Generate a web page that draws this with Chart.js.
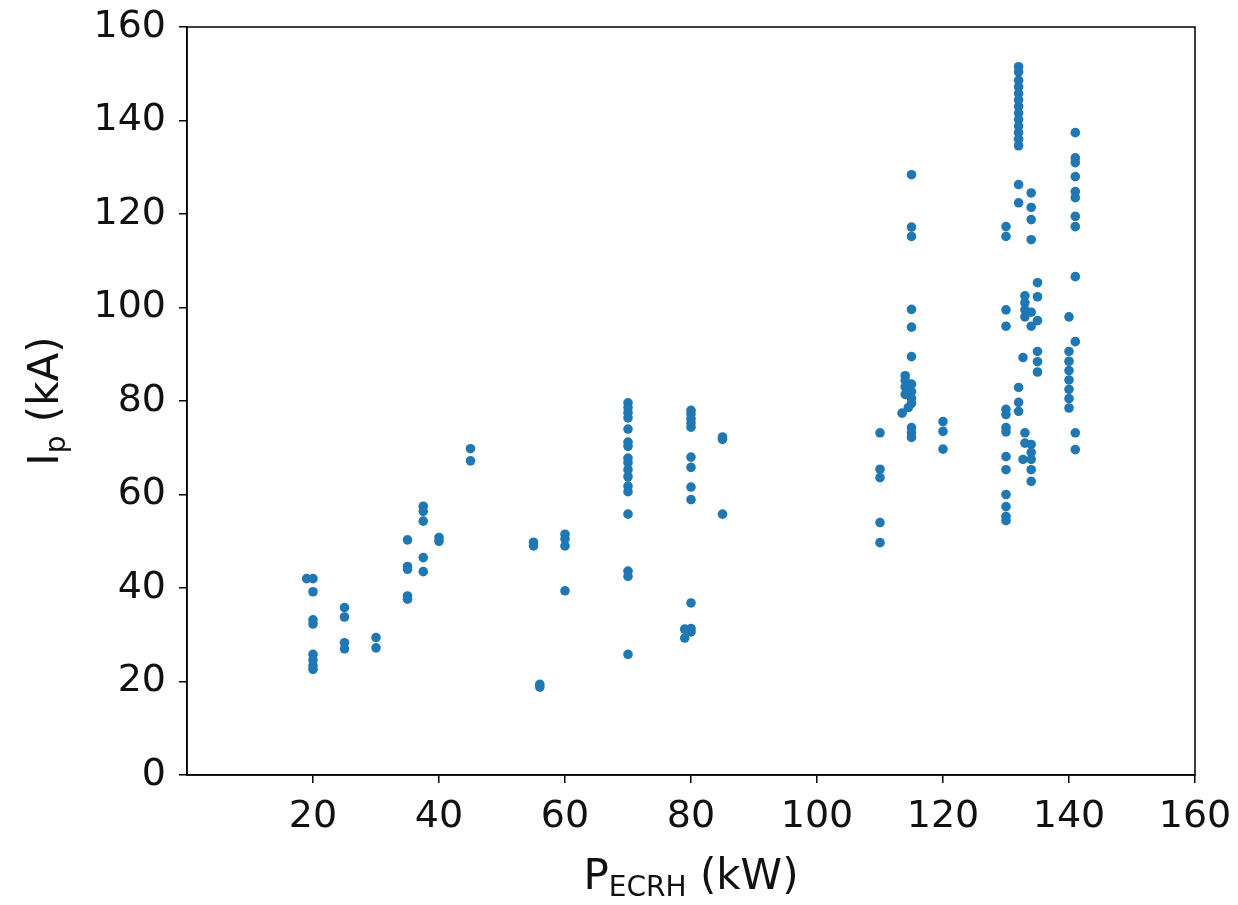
<!DOCTYPE html>
<html>
<head>
<meta charset="UTF-8">
<title>Ip vs PECRH</title>
<script src="https://cdn.jsdelivr.net/npm/chart.js"></script>
<style>
  html, body { margin: 0; padding: 0; background: #fff; }
  #wrap { width: 1238px; height: 905px; }
</style>
</head>
<body>
<div id="wrap"><canvas id="myChart" width="1238" height="905"></canvas></div>
<script>
// heating power (kW) and plasma current (kA), one entry per shot
const pEcrh = [
  19, 20, 20, 20, 20, 20, 20, 20, 20,
  25, 25, 25, 25,
  30, 30,
  35, 35, 35, 35, 35,
  37.5, 37.5, 37.5, 37.5, 37.5,
  40, 40,
  45, 45,
  55, 55, 56, 56,
  60, 60, 60, 60,
  70, 70, 70, 70, 70, 70, 70, 70, 70, 70, 70, 70, 70, 70, 70, 70, 70,
  80, 80, 80, 80, 80, 80, 80, 80, 80, 80, 80, 80, 79, 79,
  85, 85, 85,
  110, 110, 110, 110, 110,
  115, 115, 115, 115, 115, 115, 115, 115, 115,
  114, 114, 115, 114, 115, 114, 115, 115, 114.5, 113.5,
  120, 120, 120,
  130, 130, 130, 130, 130, 130, 130, 130, 130, 130, 130, 130, 130, 130,
  132, 132, 132, 132, 132, 132, 132, 132, 132, 132, 132, 132, 132,
  132, 132, 132, 132, 132, 132.7, 132.7,
  133, 133, 133, 133, 133, 133,
  134, 134, 134, 134, 134, 134, 134, 134, 134, 134, 134,
  135, 135, 135, 135, 135, 135,
  140, 140, 140, 140, 140, 140, 140, 140,
  141, 141, 141, 141, 141, 141, 141, 141, 141, 141, 141, 141
];
const ipValues = [
  42, 42, 39.2, 33.2, 32.3, 25.8, 24.6, 23.4, 22.6,
  35.8, 33.8, 28.3, 27.0,
  29.4, 27.2,
  50.3, 44.6, 44.0, 38.3, 37.6,
  57.5, 56.4, 54.3, 46.5, 43.5,
  50.8, 50.0,
  69.8, 67.2,
  49.8, 49.0, 19.4, 18.8,
  51.5, 50.5, 49.0, 39.4,
  79.6, 78.6, 77.5, 76.4, 74.0, 71.2, 70.3, 67.8, 66.8, 65.3, 63.8, 61.8, 60.6, 55.8, 43.6, 42.5, 25.8,
  78.0, 77.2, 76.2, 75.3, 74.4, 68.0, 65.8, 61.6, 58.9, 36.8, 31.3, 30.6, 31.2, 29.3,
  72.3, 71.8, 55.8,
  73.2, 65.4, 63.6, 54.0, 49.7,
  128.4, 117.2, 115.2, 99.6, 95.8, 89.5, 74.3, 73.2, 72.2,
  85.4, 84.4, 83.6, 83.0, 82.0, 81.4, 80.6, 79.5, 78.6, 77.4,
  75.6, 73.5, 69.7,
  117.3, 115.2, 99.5, 96.0, 78.2, 77.1, 74.3, 73.4, 68.1, 65.3, 60.0, 57.4, 55.3, 54.4,
  151.5, 150.4, 148.6, 147.2, 145.8, 144.4, 143.0, 141.6, 140.2, 138.8, 137.4, 136.0, 134.6,
  126.3, 122.4, 82.9, 79.7, 77.8, 89.3, 67.5,
  102.5, 101.0, 99.5, 98.0, 73.2, 71.0,
  124.5, 121.4, 118.8, 114.5, 99.0, 96.0, 70.7, 69.0, 67.5, 65.3, 62.8,
  105.3, 102.3, 97.2, 90.6, 88.4, 86.2,
  98.0, 90.6, 88.5, 86.5, 84.5, 82.5, 80.5, 78.5,
  137.4, 132.0, 131.0, 128.0, 124.8, 123.5, 119.5, 117.3, 106.6, 92.7, 73.2, 69.6
];
const xTicks = [20, 40, 60, 80, 100, 120, 140, 160];
const yTicks = [0, 20, 40, 60, 80, 100, 120, 140, 160];

const FONT = 'DejaVu Sans';
const points = pEcrh.map((p, i) => ({ x: p, y: ipValues[i] }));

// frame + axis titles with subscripts
const framePlugin = {
  id: 'framePlugin',
  afterDraw(chart) {
    const { ctx, chartArea: a } = chart;
    ctx.save();
    ctx.strokeStyle = '#000';
    ctx.lineWidth = 1.5;
    ctx.strokeRect(a.left, a.top, a.right - a.left, a.bottom - a.top);

    ctx.fillStyle = '#111';
    ctx.textBaseline = 'alphabetic';

    // x title: P_ECRH (kW)
    const big = '42px ' + FONT, small = '28px ' + FONT;
    ctx.font = big; const wP = ctx.measureText('P').width;
    ctx.font = small; const wS = ctx.measureText('ECRH').width;
    ctx.font = big; const wR = ctx.measureText(' (kW)').width;
    let x = (a.left + a.right) / 2 - (wP + wS + wR) / 2;
    const yb = 889;
    ctx.textAlign = 'left';
    ctx.font = big; ctx.fillText('P', x, yb); x += wP;
    ctx.font = small; ctx.fillText('ECRH', x, yb + 7); x += wS;
    ctx.font = big; ctx.fillText(' (kW)', x, yb);

    // y title: I_p (kA)
    ctx.translate(58, (a.top + a.bottom) / 2);
    ctx.rotate(-Math.PI / 2);
    ctx.font = big; const wI = ctx.measureText('I').width;
    ctx.font = small; const wp = ctx.measureText('p').width;
    ctx.font = big; const wk = ctx.measureText(' (kA)').width;
    x = -(wI + wp + wk) / 2;
    ctx.font = big; ctx.fillText('I', x, 0); x += wI;
    ctx.font = small; ctx.fillText('p', x, 7); x += wp;
    ctx.font = big; ctx.fillText(' (kA)', x, 0);
    ctx.restore();
  }
};

const axisCommon = {
  grid: { drawOnChartArea: false, drawTicks: true, tickLength: 8, color: '#000', lineWidth: 1.5 },
  border: { display: true, color: '#000', width: 1.5 },
  ticks: { color: '#111', font: { family: FONT, size: 38 }, autoSkip: false, maxRotation: 0 }
};

// no label overflow padding, so the plot box sits where the layout padding puts it
function noOverflow(s) {
  s.paddingTop = 0; s.paddingBottom = 0; s.paddingLeft = 0; s.paddingRight = 0;
}

new Chart(document.getElementById('myChart').getContext('2d'), {
  type: 'scatter',
  data: {
    datasets: [{
      data: points,
      backgroundColor: '#1f77b4',
      borderWidth: 0,
      pointRadius: 4.8,
      pointHoverRadius: 4.8
    }]
  },
  options: {
    responsive: false,
    animation: false,
    layout: { padding: { top: 27, right: 43, left: 0, bottom: 0 } },
    plugins: { legend: { display: false }, tooltip: { enabled: false } },
    scales: {
      x: {
        type: 'linear', min: 0, max: 160,
        ...axisCommon,
        ticks: { ...axisCommon.ticks, padding: 11 },
        afterBuildTicks(s) { s.ticks = xTicks.map(v => ({ value: v })); },
        afterFit(s) { s.height = 130; noOverflow(s); }
      },
      y: {
        type: 'linear', min: 0, max: 160,
        ...axisCommon,
        ticks: { ...axisCommon.ticks, padding: 13 },
        afterBuildTicks(s) { s.ticks = yTicks.map(v => ({ value: v })); },
        afterFit(s) { s.width = 187; noOverflow(s); }
      }
    }
  },
  plugins: [framePlugin]
});
</script>
</body>
</html>
